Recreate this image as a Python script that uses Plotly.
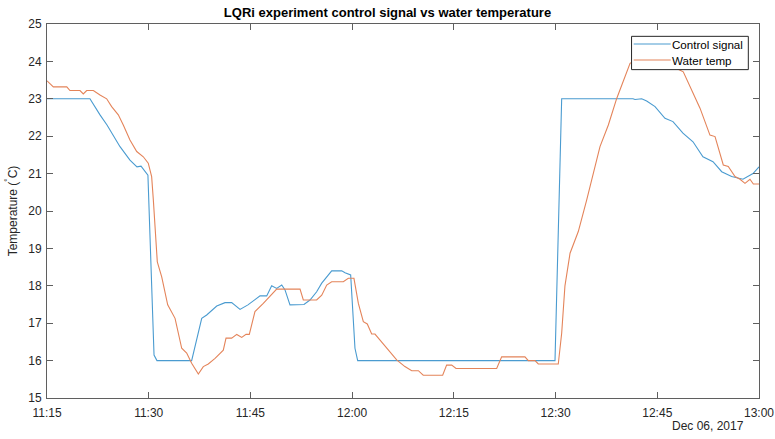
import plotly.graph_objects as go

day = "2017-12-06 "

ctrl_time = ["11:15:00", "11:21:20", "11:22:49", "11:23:51", "11:25:46", "11:27:14", "11:28:16", "11:28:52",
             "11:29:53", "11:30:47", "11:31:13", "11:36:20", "11:37:49", "11:38:33", "11:40:02", "11:41:15",
             "11:42:14", "11:43:28", "11:44:38", "11:46:25", "11:47:24", "11:48:08", "11:48:52", "11:49:37",
             "11:50:06", "11:50:50", "11:52:54", "11:53:47", "11:54:46", "11:55:31", "11:56:59", "11:58:28",
             "11:58:57", "11:59:47", "12:00:25", "12:00:49", "12:29:55", "12:30:54", "12:41:25", "12:41:43",
             "12:42:42", "12:43:26", "12:44:40", "12:46:08", "12:47:19", "12:48:47", "12:50:16", "12:51:44",
             "12:53:13", "12:54:30", "12:55:58", "12:57:38", "12:59:07", "13:00:00"]
ctrl_val = [23.0, 23.0, 22.57, 22.3, 21.72, 21.36, 21.18, 21.2,
            20.96, 16.15, 16.0, 16.0, 17.13, 17.22, 17.46, 17.55,
            17.55, 17.37, 17.49, 17.73, 17.73, 18.0, 17.93, 18.02,
            17.89, 17.49, 17.5, 17.62, 17.84, 18.07, 18.4, 18.4,
            18.35, 18.29, 16.33, 16.0, 16.0, 23.0, 23.0, 22.98,
            23.0, 22.94, 22.79, 22.48, 22.39, 22.08, 21.85, 21.45,
            21.32, 21.05, 20.92, 20.85, 21.0, 21.18]

water_time = ["11:15:00", "11:15:56", "11:17:55", "11:18:23", "11:19:52", "11:20:21", "11:20:51", "11:21:50",
              "11:22:49", "11:23:48", "11:24:32", "11:25:31", "11:26:15", "11:27:14", "11:28:14", "11:29:12",
              "11:29:56", "11:30:26", "11:30:41", "11:31:16", "11:31:55", "11:32:48", "11:33:53", "11:34:52",
              "11:35:36", "11:36:20", "11:37:19", "11:38:03", "11:38:47", "11:39:47", "11:41:00", "11:41:24",
              "11:42:14", "11:42:59", "11:43:43", "11:44:21", "11:44:50", "11:45:40", "11:46:54", "11:47:53",
              "11:48:52", "11:52:19", "11:52:48", "11:54:46", "11:55:31", "11:56:15", "11:56:59", "11:58:42",
              "11:59:26", "12:00:16", "12:00:55", "12:01:39", "12:02:14", "12:02:53", "12:03:22", "12:04:07",
              "12:06:34", "12:07:47", "12:08:47", "12:09:46", "12:10:29", "12:13:21", "12:13:56", "12:14:41",
              "12:15:19", "12:21:19", "12:22:03", "12:25:29", "12:25:59", "12:26:58", "12:27:27", "12:30:24",
              "12:30:54", "12:31:23", "12:32:08", "12:33:21", "12:34:35", "12:36:33", "12:37:47", "12:39:01",
              "12:39:59", "12:40:59", "12:42:27", "12:44:40", "12:46:52", "12:48:50", "12:50:04", "12:51:18",
              "12:52:46", "12:53:31", "12:54:44", "12:55:28", "12:56:28", "12:57:12", "12:57:56", "12:58:40",
              "12:59:10", "13:00:00"]
water_val = [23.48, 23.32, 23.32, 23.22, 23.22, 23.13, 23.22, 23.22,
             23.1, 23.0, 22.79, 22.57, 22.3, 21.9, 21.59, 21.45,
             21.28, 20.92, 20.29, 18.64, 18.24, 17.49, 17.13, 16.33,
             16.2, 15.93, 15.64, 15.84, 15.91, 16.06, 16.28, 16.6,
             16.6, 16.7, 16.62, 16.7, 16.7, 17.31, 17.53, 17.71,
             17.91, 17.91, 17.62, 17.62, 17.75, 18.02, 18.11, 18.11,
             18.2, 18.2, 17.53, 17.04, 16.98, 16.71, 16.71, 16.55,
             16.02, 15.84, 15.73, 15.73, 15.61, 15.61, 15.88, 15.88,
             15.79, 15.79, 16.1, 16.1, 16.0, 16.0, 15.91, 15.91,
             16.73, 18.0, 18.87, 19.45, 20.29, 21.72, 22.3, 23.01,
             23.5, 23.95, 24.1, 24.0, 23.9, 23.72, 23.24, 22.75,
             22.03, 21.99, 21.23, 21.19, 20.92, 20.85, 20.74, 20.85,
             20.72, 20.72]

series_names = ["Control signal", "Water temp"]
series_colors = ["#4a9bd0", "#e4845a"]

x_ticks = ["11:15", "11:30", "11:45", "12:00", "12:15", "12:30", "12:45", "13:00"]
y_ticks = list(range(15, 26))

axis_color = "#5f5f5f"
text_color = "#262626"
font_family = "Liberation Sans, Arial, sans-serif"

fig = go.Figure()
fig.add_trace(go.Scatter(x=[day + t for t in ctrl_time], y=ctrl_val, mode="lines",
                         name=series_names[0], line=dict(color=series_colors[0], width=1.1)))
fig.add_trace(go.Scatter(x=[day + t for t in water_time], y=water_val, mode="lines",
                         name=series_names[1], line=dict(color=series_colors[1], width=1.1)))

fig.update_layout(
    width=775, height=439,
    margin=dict(l=47, r=16, t=24, b=41),
    paper_bgcolor="white", plot_bgcolor="white",
    font=dict(family=font_family, size=12, color=text_color),
    title=dict(text="<b>LQRi experiment control signal vs water temperature</b>",
               x=0.5, xanchor="center", y=1 - 12 / 439, yanchor="middle",
               font=dict(size=13, color="#000000")),
    showlegend=False,
)
fig.update_xaxes(
    range=[day + "11:15:00", day + "13:00:00"], automargin=False,
    tickmode="array", tickvals=[day + t + ":00" for t in x_ticks], ticktext=x_ticks,
    showgrid=False, zeroline=False, showline=True, linecolor=axis_color, linewidth=1,
    mirror="ticks", ticks="inside", ticklen=6, tickcolor=axis_color,
    tickfont=dict(size=12, color=text_color), ticklabelstandoff=4,
)
fig.update_yaxes(
    range=[15, 25], automargin=False, tickmode="array", tickvals=y_ticks,
    ticktext=[str(v) for v in y_ticks],
    showgrid=False, zeroline=False, showline=True, linecolor=axis_color, linewidth=1,
    mirror="ticks", ticks="inside", ticklen=6, tickcolor=axis_color,
    tickfont=dict(size=12, color=text_color), ticklabelstandoff=2,
    title=dict(text="Temperature (<sup>°</sup>C)", font=dict(size=12, color=text_color), standoff=8),
)

# legend box (drawn manually to match MATLAB layout)
lx0, lx1, ly0, ly1 = 0.821, 0.985, 0.878, 0.967
fig.add_shape(type="rect", xref="paper", yref="paper", x0=lx0, x1=lx1, y0=ly0, y1=ly1,
              fillcolor="white", line=dict(color="#262626", width=1), layer="above")
row_y = [0.9465, 0.9037]
for name, color, yy in zip(series_names, series_colors, row_y):
    fig.add_shape(type="line", xref="paper", yref="paper", x0=0.824, x1=0.876, y0=yy, y1=yy,
                  line=dict(color=color, width=1.1), layer="above")
    fig.add_annotation(text=name, xref="paper", yref="paper", x=0.8765, y=yy,
                       xanchor="left", yanchor="middle", showarrow=False, borderpad=0,
                       font=dict(size=11.6, color="#000000"))

fig.add_annotation(text="Dec 06, 2017", xref="paper", yref="paper", x=0.9817, y=-0.0749,
                   xanchor="right", yanchor="middle", showarrow=False,
                   font=dict(size=12, color=text_color))

fig.write_html("out.html")
